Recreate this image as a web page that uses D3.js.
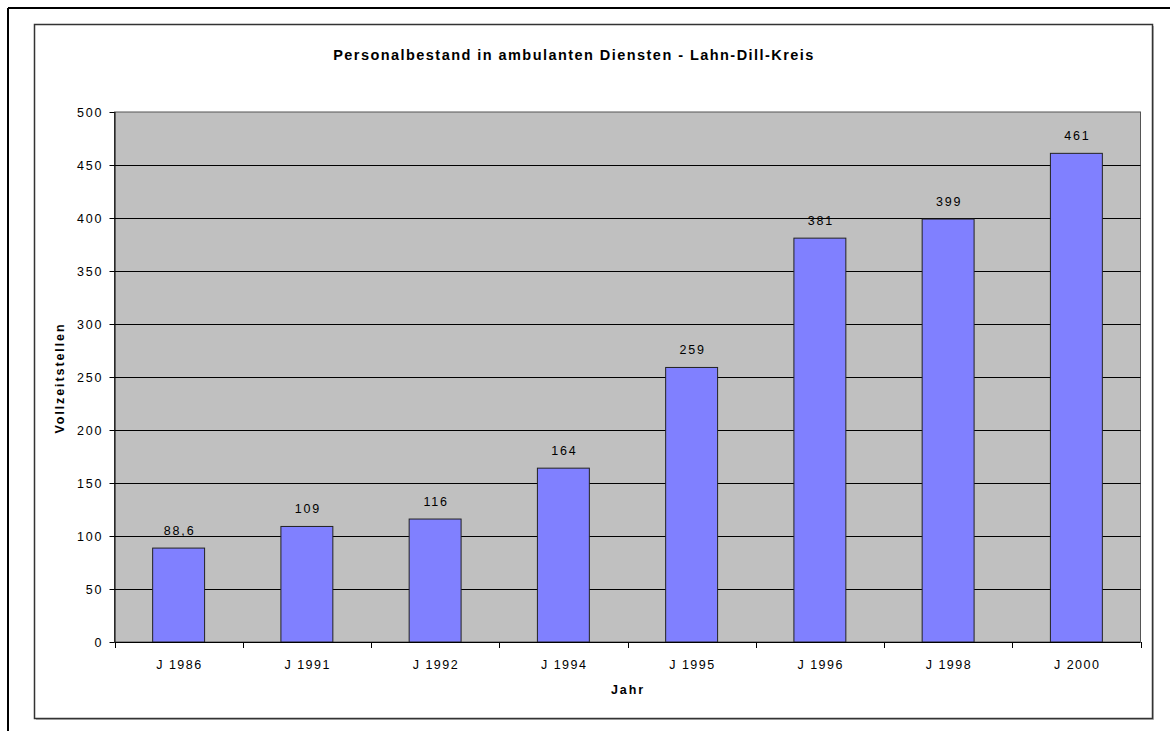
<!DOCTYPE html>
<html>
<head>
<meta charset="utf-8">
<script src="https://cdn.jsdelivr.net/npm/d3@7"></script>
<style>
  html, body { margin: 0; padding: 0; background: #fff; }
  svg { display: block; }
  text { font-family: "Liberation Sans", Arial, sans-serif; fill: #000; }
</style>
</head>
<body>
<svg id="chart" width="1170" height="731"></svg>
<script>
// Staff headcount (full-time positions) in outpatient services
const years = ["J 1986", "J 1991", "J 1992", "J 1994", "J 1995", "J 1996", "J 1998", "J 2000"];
const positions = [88.6, 109, 116, 164, 259, 381, 399, 461];
const valueLabels = ["88,6", "109", "116", "164", "259", "381", "399", "461"];
const yTicks = [0, 50, 100, 150, 200, 250, 300, 350, 400, 450, 500];

const titleText = "Personalbestand in ambulanten Diensten - Lahn-Dill-Kreis";
const xTitle = "Jahr";
const yTitle = "Vollzeitstellen";

const svg = d3.select("#chart");
const plot = { left: 114.5, right: 1140.5, top: 112, bottom: 642 };
const LS = 2;   // letter spacing used for the regular labels

// page border (top and left edges)
svg.append("line").attr("x1", 8).attr("x2", 1170).attr("y1", 8).attr("y2", 8)
  .attr("stroke", "#000").attr("stroke-width", 2);
svg.append("line").attr("x1", 8).attr("x2", 8).attr("y1", 8).attr("y2", 731)
  .attr("stroke", "#000").attr("stroke-width", 2);

// chart frame with a soft shadow
svg.append("rect").attr("x", 36).attr("y", 26).attr("width", 1118).attr("height", 694)
  .attr("fill", "#bdbdbd");
svg.append("rect").attr("x", 34.5).attr("y", 24.5).attr("width", 1118).attr("height", 694)
  .attr("fill", "#fff").attr("stroke", "#333").attr("stroke-width", 1.5);

const x = d3.scaleBand().domain(years).range([plot.left, plot.right]).paddingInner(0.595).paddingOuter(0.2975);
const xCat = d3.scaleBand().domain(years).range([plot.left, plot.right]);
const y = d3.scaleLinear().domain([0, 500]).range([plot.bottom, plot.top]);

// plot background
svg.append("rect").attr("x", plot.left).attr("y", plot.top)
  .attr("width", plot.right - plot.left).attr("height", plot.bottom - plot.top)
  .attr("fill", "#c0c0c0").attr("stroke", "#555").attr("stroke-width", 1);

// gridlines
svg.append("g").selectAll("line").data(yTicks.filter(d => d > 0 && d < 500)).join("line")
  .attr("x1", plot.left).attr("x2", plot.right)
  .attr("y1", d => Math.round(y(d)) + 0.5).attr("y2", d => Math.round(y(d)) + 0.5)
  .attr("stroke", "#000").attr("stroke-width", 1);

// bars
svg.append("g").selectAll("rect").data(positions).join("rect")
  .attr("x", (d, i) => x(years[i]))
  .attr("y", d => y(d))
  .attr("width", x.bandwidth())
  .attr("height", d => plot.bottom - y(d))
  .attr("fill", "#8080ff").attr("stroke", "#222").attr("stroke-width", 1);

// value labels
svg.append("g").selectAll("text").data(positions).join("text")
  .attr("x", (d, i) => x(years[i]) + x.bandwidth() / 2 + LS / 2)
  .attr("y", d => y(d) - 13)
  .attr("text-anchor", "middle")
  .attr("font-size", 12.5).attr("letter-spacing", 1.8)
  .text((d, i) => valueLabels[i]);

// y axis
const yAxis = svg.append("g").attr("transform", `translate(${plot.left},0)`)
  .call(d3.axisLeft(y).tickValues(yTicks).tickSize(5).tickPadding(8).tickFormat(d3.format("d")));
yAxis.select(".domain").attr("stroke", "#000").attr("d", `M0.5,${plot.top}V${plot.bottom}`);
yAxis.selectAll(".tick line").attr("stroke", "#000");
yAxis.selectAll(".tick text").attr("font-size", 12.5).attr("letter-spacing", 1.8)
  .attr("font-family", "Liberation Sans, Arial, sans-serif").attr("fill", "#000")
  .attr("dx", 1.8);

// x axis: category boundary ticks
const xAxisG = svg.append("g").attr("transform", `translate(0,${plot.bottom})`);
xAxisG.append("line").attr("x1", plot.left).attr("x2", plot.right).attr("y1", 0.5).attr("y2", 0.5)
  .attr("stroke", "#000");
const bounds = years.map(c => xCat(c)).concat([plot.right]);
xAxisG.selectAll("line.tk").data(bounds).join("line").attr("class", "tk")
  .attr("x1", d => Math.round(d) + 0.5).attr("x2", d => Math.round(d) + 0.5)
  .attr("y1", 0).attr("y2", 6).attr("stroke", "#000");
xAxisG.selectAll("text").data(years).join("text")
  .attr("x", d => xCat(d) + xCat.bandwidth() / 2 + 0.8)
  .attr("y", 27)
  .attr("text-anchor", "middle")
  .attr("font-size", 12.5).attr("letter-spacing", 1.5)
  .text(d => d);

// titles
svg.append("text").attr("x", 574).attr("y", 60).attr("text-anchor", "middle")
  .attr("font-size", 14.5).attr("font-weight", "bold").attr("letter-spacing", 1.45)
  .text(titleText);
svg.append("text").attr("x", 628).attr("y", 694).attr("text-anchor", "middle")
  .attr("font-size", 12.5).attr("font-weight", "bold").attr("letter-spacing", 1.9)
  .text(xTitle);
svg.append("text").attr("transform", "translate(64,378) rotate(-90)").attr("text-anchor", "middle")
  .attr("font-size", 12.5).attr("font-weight", "bold").attr("letter-spacing", 1.9)
  .text(yTitle);
</script>
</body>
</html>
